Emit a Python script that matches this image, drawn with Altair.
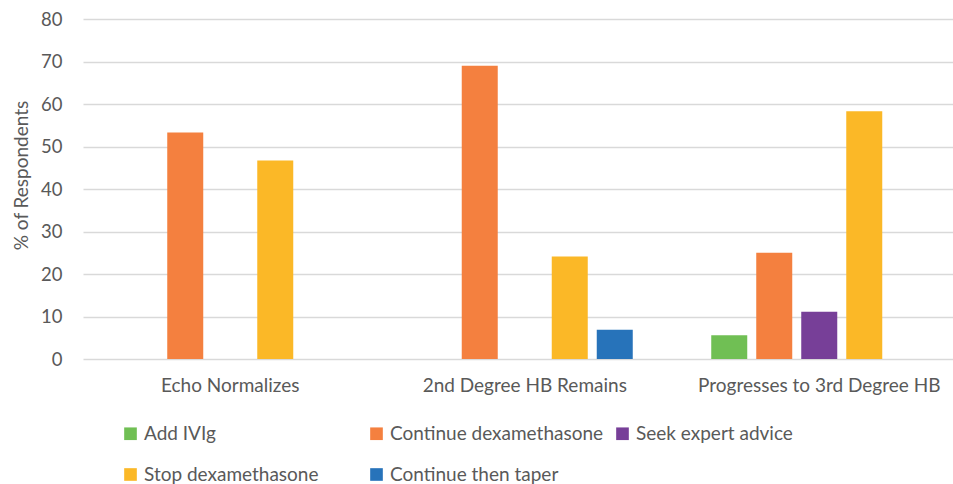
import altair as alt
import pandas as pd

categories = ["Echo Normalizes", "2nd Degree HB Remains", "Progresses to 3rd Degree HB"]
series = ["Add IVIg", "Continue dexamethasone", "Seek expert advice",
          "Stop dexamethasone", "Continue then taper"]
colors = ["#70BF54", "#F4803F", "#773F98", "#FBB827", "#2773BA"]

add_ivig = [0, 0, 5.6]
continue_dex = [53.3, 69.0, 25.0]
seek_expert = [0, 0, 11.1]
stop_dex = [46.7, 24.1, 58.3]
continue_taper = [0, 6.9, 0]

y_ticks = [0, 10, 20, 30, 40, 50, 60, 70, 80]

rows = []
for s, vals in zip(series, [add_ivig, continue_dex, seek_expert, stop_dex, continue_taper]):
    for c, v in zip(categories, vals):
        rows.append({"category": c, "series": s, "value": v})
df = pd.DataFrame(rows)

FONT = "Lato"
GRAY = "#595959"

chart = alt.Chart(df).transform_filter("datum.value > 0").mark_bar().encode(
    x=alt.X("category:N", sort=categories,
            scale=alt.Scale(range=[0, 883.5], paddingInner=0, paddingOuter=0),
            axis=alt.Axis(title=None, labelAngle=0, domain=False, ticks=False, tickSize=0,
                          labelFont=FONT, labelFontSize=19, labelColor=GRAY,
                          labelPadding=17, grid=False, labelLimit=400)),
    xOffset=alt.XOffset("series:N", sort=series,
                        scale=alt.Scale(domain=series, paddingInner=0.2, paddingOuter=0.872)),
    y=alt.Y("value:Q", scale=alt.Scale(domain=[0, 80]),
            axis=alt.Axis(values=y_ticks, title="% of Respondents", domain=False, ticks=False,
                          tickSize=0, labelPadding=21, labelFont=FONT, labelFontSize=18.5,
                          labelColor=GRAY, gridColor="#D9D9D9", gridWidth=1.3,
                          titleFont=FONT, titleFontSize=19, titleColor=GRAY,
                          titleFontWeight="normal", titleAngle=270, titleX=-62, titleY=156,
                          titleAlign="center", titleBaseline="middle")),
    color=alt.Color("series:N", scale=alt.Scale(domain=series, range=colors),
                    legend=alt.Legend(orient="none", legendX=38, legendY=405, columns=3,
                                      direction="horizontal",
                                      title=None, symbolType="square", symbolSize=160,
                                      symbolStrokeWidth=0, labelFont=FONT, labelFontSize=19,
                                      labelColor=GRAY, gridAlign="all", columnPadding=9,
                                      rowPadding=21, labelOffset=4, labelLimit=400)),
).properties(
    width=870, height=340, autosize="none",
    padding={"left": 83, "top": 19, "right": 0, "bottom": 125}
).configure_view(strokeWidth=0)

chart.save("out.html", embed_options={"renderer": "svg", "actions": False})
